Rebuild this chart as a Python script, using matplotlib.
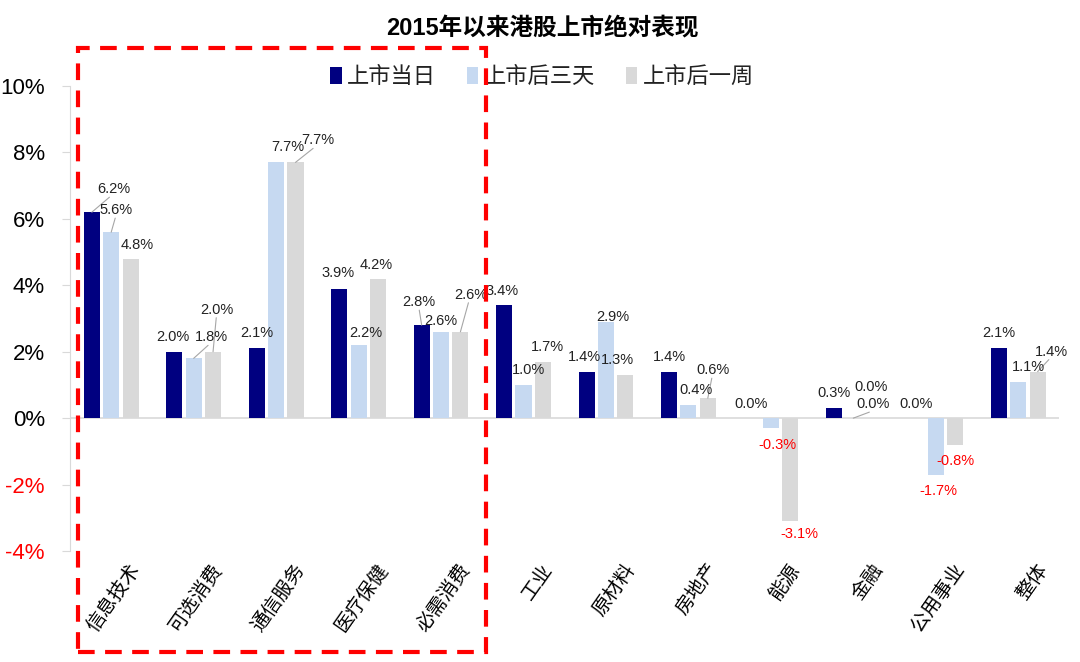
import numpy as np
import matplotlib.pyplot as plt
from matplotlib.patches import Rectangle

plt.rcParams['font.family'] = ['Liberation Sans', 'Noto Sans CJK SC', 'DejaVu Sans']

# data
categories = ['信息技术', '可选消费', '通信服务', '医疗保健', '必需消费', '工业',
              '原材料', '房地产', '能源', '金融', '公用事业', '整体']
series_names = ['上市当日', '上市后三天', '上市后一周']
day1 = [6.2, 2.0, 2.1, 3.9, 2.8, 3.4, 1.4, 1.4, 0.0, 0.3, 0.0, 2.1]
day3 = [5.6, 1.8, 7.7, 2.2, 2.6, 1.0, 2.9, 0.4, -0.3, 0.0, -1.7, 1.1]
week1 = [4.8, 2.0, 7.7, 4.2, 2.6, 1.7, 1.3, 0.6, -3.1, 0.0, -0.8, 1.4]
yticks = [-4, -2, 0, 2, 4, 6, 8, 10]

colors = ['#000080', '#C6D9F1', '#D9D9D9']

# label offsets in pixels (dx, dy, leader) per series, per category
label_offsets = [
    [(22, 23, True), (-1, 15, False), (0, 15, False), (-1, 16, False), (-3, 23, True),
     (-2, 14, False), (-2, 15, False), (0, 15, False), (0, 14, False), (0, 15, False),
     (0, 14, False), (0, 15, False)],
    [(5, 22, True), (18, 21, True), (12, 15, False), (7, 12, False), (0, 11, False),
     (5, 15, False), (7, 5, False), (8, 15, False), (7, -17, False), (20, 14, True),
     (3, -16, False), (10, 15, False)],
    [(7, 14, False), (4, 42, True), (22, 22, True), (-2, 14, False), (10, 37, True),
     (5, 15, False), (-8, 15, False), (5, 28, True), (9, -13, False), (-2, 31, False),
     (0, -16, False), (14, 20, True)],
]

fig = plt.figure(figsize=(10.8, 6.62), dpi=100)
ax = fig.add_axes([0.0648, 0.1677, 0.9162, 0.7024])

x = np.arange(len(categories))
width = 0.195
step = 0.235
all_series = [day1, day3, week1]
for s, vals in enumerate(all_series):
    pos = x + (s - 1) * step
    ax.bar(pos, vals, width=width, color=colors[s], label=series_names[s], zorder=2)
    for i, v in enumerate(vals):
        dx, dy, leader = label_offsets[s][i]
        col = '#FF0000' if v < 0 else '#222222'
        ax.annotate(f'{v:.1f}%', xy=(pos[i], v), xytext=(dx, dy),
                    textcoords='offset pixels', ha='center', va='center',
                    fontsize=10.5, color=col, zorder=4)
        if leader:
            ax.annotate('', xy=(pos[i], v), xytext=(dx * 0.8, dy - 8 if dy > 0 else dy + 8),
                        textcoords='offset pixels',
                        arrowprops=dict(arrowstyle='-', color='#A6A6A6', lw=0.8,
                                        shrinkA=0, shrinkB=0), zorder=3)

ax.set_xlim(-0.5, len(categories) - 0.5)
ax.set_ylim(-4, 10)
ax.axhline(0, color='#D9D9D9', lw=1.2, zorder=1)

ax.set_yticks(yticks)
ax.set_yticklabels([f'{t}%' for t in yticks], fontsize=16)
for lab, t in zip(ax.get_yticklabels(), yticks):
    lab.set_color('#FF0000' if t < 0 else 'black')
ax.tick_params(axis='y', length=6, color='#D9D9D9', pad=12)

ax.set_xticks(x + 0.2)
ax.set_xticklabels(categories, rotation=55, ha='right', rotation_mode='anchor',
                   fontsize=14, family=['Noto Sans CJK SC', 'DejaVu Sans'])
ax.tick_params(axis='x', length=0, pad=6)

for sp in ['top', 'right', 'bottom']:
    ax.spines[sp].set_visible(False)
ax.spines['left'].set_color('#D9D9D9')

leg = ax.legend(loc='center left', bbox_to_anchor=(0.243, 1.02), ncol=3, frameon=False,
                handlelength=0.5, handleheight=0.75, handletextpad=0.25, columnspacing=1.4,
                prop={'family': ['Noto Sans CJK SC', 'DejaVu Sans'], 'size': 16})
for t in leg.get_texts():
    t.set_color('#222222')

fig.text(0.502, 0.957, '2015年以来港股上市绝对表现', ha='center', va='center',
         fontsize=17, fontweight='bold', family=['Liberation Sans', 'Noto Sans CJK SC'])

# red dashed highlight box
fig.patches.append(Rectangle((78 / 1080, 1 - 652 / 662), (486 - 78) / 1080, (652 - 48) / 662,
                             transform=fig.transFigure, fill=False, edgecolor='#FF0000',
                             lw=3, linestyle=(0, (4, 2.5)), zorder=10))

fig.savefig('out.png', dpi=100)
